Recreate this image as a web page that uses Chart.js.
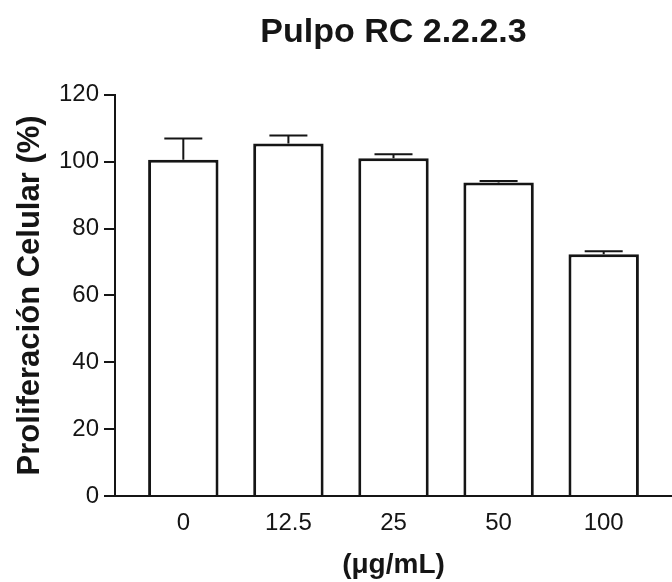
<!DOCTYPE html>
<html><head><meta charset="utf-8">
<script src="https://cdn.jsdelivr.net/npm/chart.js@4.4.0/dist/chart.umd.min.js"></script>
<style>html,body{margin:0;padding:0;background:#fff}#wrap{width:672px;height:582px}</style>
</head><body><div id="wrap"><canvas id="c" width="672" height="582"></canvas></div>
<script>
const categories = ['0', '12.5', '25', '50', '100'];
const values = [100.6, 105.4, 101.0, 93.8, 72.3];
const errors = [6.3, 2.4, 1.2, 0.4, 0.9];
const yTicks = [0, 20, 40, 60, 80, 100, 120];
const titleText = 'Pulpo RC 2.2.2.3';
const yTitle = 'Proliferación Celular (%)';
const xTitle = '(\u03bcg/mL)';

const ink = '#151515';
const FONT = "'Liberation Sans', Arial, sans-serif";

const errorBars = {
  id: 'errorBars',
  afterDatasetsDraw(chart) {
    const {ctx, scales: {x, y}} = chart;
    const cap = 19;
    ctx.save();
    ctx.strokeStyle = ink;
    ctx.lineWidth = 2;
    values.forEach((v, i) => {
      const px = x.getPixelForValue(i);
      const top = y.getPixelForValue(v);
      const hi = y.getPixelForValue(v + errors[i]);
      ctx.beginPath();
      ctx.moveTo(px, top);
      ctx.lineTo(px, hi);
      ctx.moveTo(px - cap, hi);
      ctx.lineTo(px + cap, hi);
      ctx.stroke();
    });
    ctx.restore();
  }
};

new Chart(document.getElementById('c'), {
  type: 'bar',
  data: {
    datasets: [{
      data: categories.map((c, i) => ({x: i, y: values[i]})),
      backgroundColor: '#ffffff',
      borderColor: ink,
      borderWidth: 3,
      categoryPercentage: 1,
      barPercentage: 0.67
    }]
  },
  options: {
    responsive: false,
    animation: false,
    layout: {padding: {left: 0, right: 0, top: 0, bottom: 0}},
    plugins: {
      legend: {display: false},
      tooltip: {enabled: false},
      title: {
        display: true,
        text: titleText,
        fullSize: false,
        color: ink,
        font: {family: FONT, size: 34, weight: 'bold'},
        padding: {top: 12, bottom: 42}
      }
    },
    scales: {
      x: {
        type: 'linear',
        offset: false,
        min: -0.65,
        max: 4.65,
        afterBuildTicks: s => { s.ticks = categories.map((c, i) => ({value: i})); },
        afterFit: s => { s.height = 86; },
        grid: {display: false, drawTicks: false},
        border: {display: true, color: ink, width: 2},
        ticks: {
          color: ink,
          font: {family: FONT, size: 24},
          padding: 13,
          maxRotation: 0,
          autoSkip: false,
          callback: v => categories[v]
        },
        title: {
          display: true,
          text: xTitle,
          color: ink,
          font: {family: FONT, size: 28, weight: 'bold'},
          padding: {top: 4, bottom: 0}
        }
      },
      y: {
        min: 0,
        max: 120,
        afterFit: s => { s.width = 115; },
        afterBuildTicks: s => { s.ticks = yTicks.map(v => ({value: v})); },
        grid: {drawOnChartArea: false, drawTicks: true, tickLength: 11, color: ink, lineWidth: 2},
        border: {display: true, color: ink, width: 2},
        ticks: {
          color: ink,
          font: {family: FONT, size: 24},
          padding: 5
        },
        title: {
          display: true,
          text: yTitle,
          color: ink,
          font: {family: FONT, size: 31, weight: 'bold'},
          padding: {top: 12, bottom: 0}
        }
      }
    }
  },
  plugins: [errorBars]
});
</script></body></html>
